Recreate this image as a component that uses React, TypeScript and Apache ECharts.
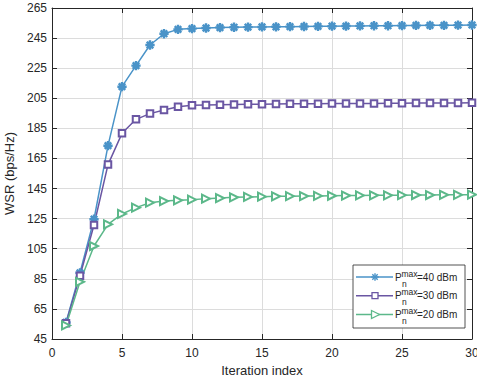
import React, { useEffect, useRef } from "react";
import * as echarts from "echarts";

const iterations = Array.from({ length: 30 }, (_, i) => i + 1);
const wsr40 = [56, 89, 124.6, 173.5, 212.7, 226.7, 240.4, 247.9, 250.8, 251.3, 251.7, 252, 252.2, 252.3, 252.4, 252.5, 252.6, 252.7, 252.8, 252.9, 253.0, 253.1, 253.2, 253.2, 253.3, 253.4, 253.5, 253.5, 253.6, 253.7];
const wsr30 = [55.5, 87, 120.8, 160.9, 181.7, 191, 194.8, 197.2, 199.4, 200.3, 200.5, 200.7, 200.9, 201.0, 201.1, 201.2, 201.3, 201.3, 201.4, 201.5, 201.5, 201.6, 201.6, 201.7, 201.7, 201.8, 201.8, 201.9, 201.9, 202.0];
const wsr20 = [54, 83, 106.8, 121.2, 128.1, 132.3, 135.6, 136.7, 137.2, 137.6, 138.3, 138.7, 139.2, 139.4, 139.6, 139.8, 139.9, 140.0, 140.1, 140.2, 140.3, 140.4, 140.5, 140.5, 140.6, 140.7, 140.7, 140.8, 140.8, 140.9];
const legendLabels = ["=40 dBm", "=30 dBm", "=20 dBm"];

const BLUE = "#4a93c8";
const PURPLE = "#6a56a3";
const GREEN = "#5cb88a";
const DARK = "#262626";
const FONT = "Liberation Sans, Arial, Helvetica, sans-serif";

const ASTERISK =
  "path://M0,4.3H10V5.7H0Z M4.3,0H5.7V10H4.3Z M2,1L9,8L8,9L1,2Z M8,1L9,2L2,9L1,8Z";

export default function App() {
  const ref = useRef<HTMLDivElement>(null);
  useEffect(() => {
    if (!ref.current) return;
    const chart = echarts.init(ref.current, undefined, { renderer: "svg" });
    const axisCommon = {
      min: 0,
      max: 30,
      interval: 5,
      axisLine: { show: true, onZero: false, lineStyle: { color: DARK, width: 1 } },
      axisTick: { show: true, inside: true, length: 5, lineStyle: { color: DARK } },
    };
    const yCommon = {
      min: 45,
      max: 265,
      interval: 20,
      axisLine: { show: true, onZero: false, lineStyle: { color: DARK, width: 1 } },
      axisTick: { show: true, inside: true, length: 5, lineStyle: { color: DARK } },
    };
    const mkSeries = (name: string, data: number[], color: string, symbol: string, size: number, extra: any = {}) => ({
      name,
      type: "line",
      data: iterations.map((x, i) => [x, data[i]]),
      symbol,
      symbolSize: size,
      showAllSymbol: true,
      lineStyle: { color, width: 1.5 },
      itemStyle: { color, borderColor: color, borderWidth: 1.3 },
      emphasis: { disabled: true },
      ...extra,
    });

    const rowY = [277, 295.7, 314.5];
    const rowColors = [BLUE, PURPLE, GREEN];
    const legendEls: any[] = [
      {
        type: "rect",
        shape: { x: 353, y: 265, width: 112, height: 63 },
        style: { fill: "#fff", stroke: DARK, lineWidth: 0.8 },
        z: 100,
      },
    ];
    rowY.forEach((y, i) => {
      const c = rowColors[i];
      legendEls.push({
        type: "line",
        shape: { x1: 356, y1: y, x2: 393, y2: y },
        style: { stroke: c, lineWidth: 1.5 },
        z: 101,
      });
      if (i === 0) {
        const cx = 375, cy = y, r = 3.8, d = 2.7;
        [
          [cx - r, cy, cx + r, cy],
          [cx, cy - r, cx, cy + r],
          [cx - d, cy - d, cx + d, cy + d],
          [cx - d, cy + d, cx + d, cy - d],
        ].forEach(([x1, y1, x2, y2]) =>
          legendEls.push({ type: "line", shape: { x1, y1, x2, y2 }, style: { stroke: c, lineWidth: 1.4 }, z: 102 })
        );
      } else if (i === 1) {
        legendEls.push({
          type: "rect",
          shape: { x: 372, y: y - 3, width: 6, height: 6 },
          style: { fill: "#fff", stroke: c, lineWidth: 1.3 },
          z: 102,
        });
      } else {
        legendEls.push({
          type: "polygon",
          shape: { points: [[371.5, y - 4], [379.5, y], [371.5, y + 4]] },
          style: { fill: "#fff", stroke: c, lineWidth: 1.3 },
          z: 102,
        });
      }
      legendEls.push(
        { type: "text", x: 395, y: y, style: { text: "P", font: `10px ${FONT}`, fill: DARK, verticalAlign: "middle", align: "left" }, z: 102 },
        { type: "text", x: 401.5, y: y - 3.5, style: { text: "max", font: `8.5px ${FONT}`, fill: DARK, verticalAlign: "middle", align: "left" }, z: 102 },
        { type: "text", x: 402, y: y + 6.5, style: { text: "n", font: `8.5px ${FONT}`, fill: DARK, verticalAlign: "middle", align: "left" }, z: 102 },
        { type: "text", x: 417, y: y, style: { text: legendLabels[i], font: `10px ${FONT}`, fill: DARK, verticalAlign: "middle", align: "left" }, z: 102 }
      );
    });

    chart.setOption({
      animation: false,
      backgroundColor: "#fff",
      textStyle: { fontFamily: FONT },
      grid: { left: 52, right: 5, top: 8, bottom: 41, containLabel: false, outerBoundsMode: "none" },
      xAxis: [
        {
          type: "value",
          position: "bottom",
          ...axisCommon,
          name: "Iteration index",
          nameLocation: "middle",
          nameGap: 25,
          nameTextStyle: { fontSize: 13, color: DARK, fontFamily: FONT },
          axisLabel: { fontSize: 12, color: DARK, margin: 8, fontFamily: FONT },
          splitLine: { show: true, lineStyle: { color: "#dcdcdc", width: 1 } },
        },
        {
          type: "value",
          position: "top",
          ...axisCommon,
          axisLabel: { show: false },
          splitLine: { show: false },
        },
      ],
      yAxis: [
        {
          type: "value",
          position: "left",
          ...yCommon,
          name: "WSR (bps/Hz)",
          nameLocation: "middle",
          nameGap: 31,
          nameRotate: 90,
          nameTextStyle: { fontSize: 13, color: DARK, fontFamily: FONT },
          axisLabel: { fontSize: 12, color: DARK, margin: 5, fontFamily: FONT },
          splitLine: { show: true, lineStyle: { color: "#dcdcdc", width: 1 } },
        },
        {
          type: "value",
          position: "right",
          ...yCommon,
          axisLabel: { show: false },
          splitLine: { show: false },
        },
      ],
      series: [
        mkSeries("40", wsr40, BLUE, ASTERISK, 8),
        mkSeries("30", wsr30, PURPLE, "emptyRect", 6.5),
        mkSeries("20", wsr20, GREEN, "emptyTriangle", 8, { symbolRotate: -90 }),
      ],
      graphic: legendEls,
    });
    return () => chart.dispose();
  }, []);
  return <div ref={ref} style={{ position: "fixed", left: 0, top: 0, width: 477, height: 380 }} />;
}
